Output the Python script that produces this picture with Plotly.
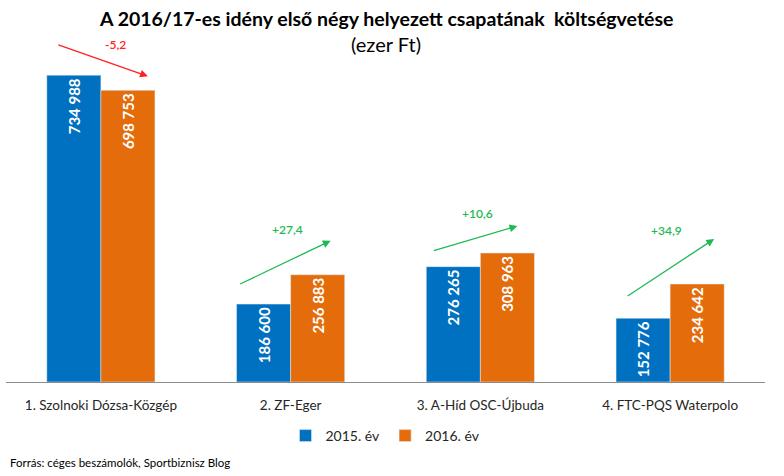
import plotly.graph_objects as go

categories = ["1. Szolnoki Dózsa-Közgép", "2. ZF-Eger", "3. A-Híd OSC-Újbuda", "4. FTC-PQS Waterpolo"]
series_names = ["2015. év", "2016. év"]
values_2015 = [734988, 186600, 276265, 152776]
values_2016 = [698753, 256883, 308963, 234642]
labels_2015 = ["734 988", "186 600", "276 265", "152 776"]
labels_2016 = ["698 753", "256 883", "308 963", "234 642"]
changes = ["-5,2", "+27,4", "+10,6", "+34,9"]

BLUE = "#0070C0"
ORANGE = "#E46C0A"
RED = "#FF2020"
GREEN = "#1DB954"
FONT = "Lato"

# arrow style offsets (pixels): head shift from (category centre, 2016 value), tail offset, label offset
arrow_style = [
    dict(xs=47, ys=14, ax=-91, ay=-32, lx=15, ly=46),
    dict(xs=40, ys=34, ax=-92, ay=44, lx=-3, ly=45),
    dict(xs=37, ys=27, ax=-85, ay=25, lx=-3, ly=40),
    dict(xs=44, ys=45, ax=-88, ay=58, lx=-4, ly=54),
]

fig = go.Figure()
for name, vals, labs, col in [(series_names[0], values_2015, labels_2015, BLUE),
                              (series_names[1], values_2016, labels_2016, ORANGE)]:
    fig.add_trace(go.Bar(
        x=categories, y=vals, name=name, marker_color=col,
        text=labs, textposition="inside", insidetextanchor="end", textangle=-90,
        textfont=dict(family=FONT, size=15, color="white", weight="bold"),
        cliponaxis=False,
    ))

annotations = []
for i, cat in enumerate(categories):
    st = arrow_style[i]
    col = RED if changes[i].startswith("-") else GREEN
    annotations.append(dict(
        x=cat, y=values_2016[i], xref="x", yref="y", xshift=st["xs"], yshift=st["ys"],
        showarrow=True, ax=st["ax"], ay=st["ay"], text="", arrowhead=2, arrowsize=1.2,
        arrowwidth=1.3, arrowcolor=col,
    ))
    annotations.append(dict(
        x=cat, y=values_2016[i], xref="x", yref="y", xshift=st["lx"], yshift=st["ly"],
        showarrow=False, text=changes[i], font=dict(family=FONT, size=12, color=col, weight=600),
    ))

T, B = 48, 94
plot_h = 476 - T - B
def py(pix):
    return (476 - B - pix) / plot_h

annotations += [
    dict(x=0.5, y=py(18), xref="paper", yref="paper", yanchor="middle",
         text="<b>A 2016/17-es idény első négy helyezett csapatának  költségvetése</b>",
         showarrow=False, font=dict(family=FONT, size=19.5, color="#000000")),
    dict(x=0.5, y=py(44), xref="paper", yref="paper", yanchor="middle",
         text="(ezer Ft)", showarrow=False, font=dict(family=FONT, size=20, color="#000000")),
    dict(x=0.002, y=py(462), xref="paper", yref="paper", xanchor="left", yanchor="middle",
         text="Forrás: céges beszámolók, Sportbiznisz Blog", showarrow=False,
         font=dict(family=FONT, size=11.5, color="#000000")),
]

fig.update_layout(
    width=784, height=476,
    margin=dict(l=6, r=19, t=T, b=B),
    paper_bgcolor="white", plot_bgcolor="white",
    barmode="group", bargap=0.43, bargroupgap=0,
    font=dict(family=FONT, color="#262626"),
    showlegend=True,
    legend=dict(orientation="h", x=0.5, xanchor="center", y=py(436), yanchor="middle",
                font=dict(family=FONT, size=14, color="#262626"), itemwidth=30,
                traceorder="normal"),
    xaxis=dict(showline=True, linecolor="#8C8C8C", linewidth=1, ticks="",
               ticklabelstandoff=11,
               tickfont=dict(family=FONT, size=13.5, color="#262626")),
    yaxis=dict(range=[0, 800000], visible=False, showgrid=False),
    annotations=annotations,
)

fig.write_html("out.html", config={"displayModeBar": False},
               post_script="document.body.style.margin='0';")
